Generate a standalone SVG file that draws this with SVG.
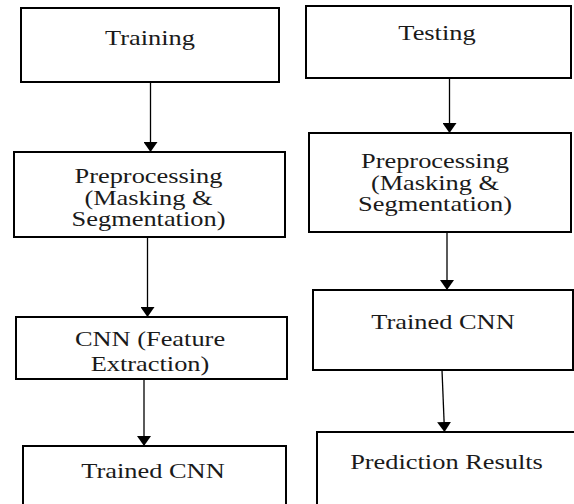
<svg xmlns="http://www.w3.org/2000/svg" width="574" height="504" viewBox="0 0 574 504">
  <style>
    .box { fill: #ffffff; stroke: #000000; stroke-width: 2; }
    .lbl { font-family: "Liberation Serif", "Times New Roman", serif; font-size: 22px; fill: #1a1a1a; text-anchor: middle; }
    .edge { stroke: #000000; stroke-width: 1.3; fill: none; marker-end: url(#tri); }
  </style>
  <defs>
    <marker id="tri" markerUnits="userSpaceOnUse" markerWidth="10" markerHeight="14" refX="10" refY="7" orient="auto" viewBox="0 0 10 14">
      <path d="M0,0 L10,7 L0,14 Z" fill="#000000"/>
    </marker>
  </defs>
  <rect width="574" height="504" fill="#ffffff"/>

  <!-- left column: training pipeline -->
  <g id="training">
    <rect class="box" x="21" y="8" width="258" height="74"/>
    <text class="lbl" transform="translate(150,45) scale(1.2,1)">Training</text>
  </g>
  <g id="preprocessing-train">
    <rect class="box" x="14" y="152" width="271" height="85"/>
    <text class="lbl" transform="translate(148.5,183) scale(1.2,1)">Preprocessing</text>
    <text class="lbl" transform="translate(148.5,204.5) scale(1.2,1)">(Masking &amp;</text>
    <text class="lbl" transform="translate(148.5,226) scale(1.2,1)">Segmentation)</text>
  </g>
  <g id="cnn-features">
    <rect class="box" x="16" y="317" width="271" height="62"/>
    <text class="lbl" transform="translate(150,346) scale(1.2,1)">CNN (Feature</text>
    <text class="lbl" transform="translate(150,371) scale(1.2,1)">Extraction)</text>
  </g>
  <g id="trained-cnn-train">
    <rect class="box" x="23" y="446" width="263" height="80"/>
    <text class="lbl" transform="translate(153,478) scale(1.2,1)">Trained CNN</text>
  </g>

  <!-- right column: testing pipeline -->
  <g id="testing">
    <rect class="box" x="306" y="6" width="265" height="72"/>
    <text class="lbl" transform="translate(437,40) scale(1.2,1)">Testing</text>
  </g>
  <g id="preprocessing-test">
    <rect class="box" x="309" y="133" width="262" height="99"/>
    <text class="lbl" transform="translate(435,168) scale(1.2,1)">Preprocessing</text>
    <text class="lbl" transform="translate(435,189.5) scale(1.2,1)">(Masking &amp;</text>
    <text class="lbl" transform="translate(435,211) scale(1.2,1)">Segmentation)</text>
  </g>
  <g id="trained-cnn-test">
    <rect class="box" x="313" y="290" width="260" height="80"/>
    <text class="lbl" transform="translate(443,329) scale(1.2,1)">Trained CNN</text>
  </g>
  <g id="prediction">
    <rect class="box" x="317" y="432" width="270" height="90"/>
    <text class="lbl" transform="translate(446.5,469) scale(1.2,1)">Prediction Results</text>
  </g>

  <!-- connectors -->
  <g id="connectors">
    <line class="edge" x1="150.5" y1="82" x2="150.5" y2="152"/>
    <line class="edge" x1="147.5" y1="237" x2="147.5" y2="317"/>
    <line class="edge" x1="144" y1="379" x2="144" y2="446"/>
    <line class="edge" x1="449.5" y1="78" x2="449.5" y2="133"/>
    <line class="edge" x1="447" y1="232" x2="447" y2="290"/>
    <line class="edge" x1="442" y1="370" x2="444.5" y2="432"/>
  </g>
</svg>
